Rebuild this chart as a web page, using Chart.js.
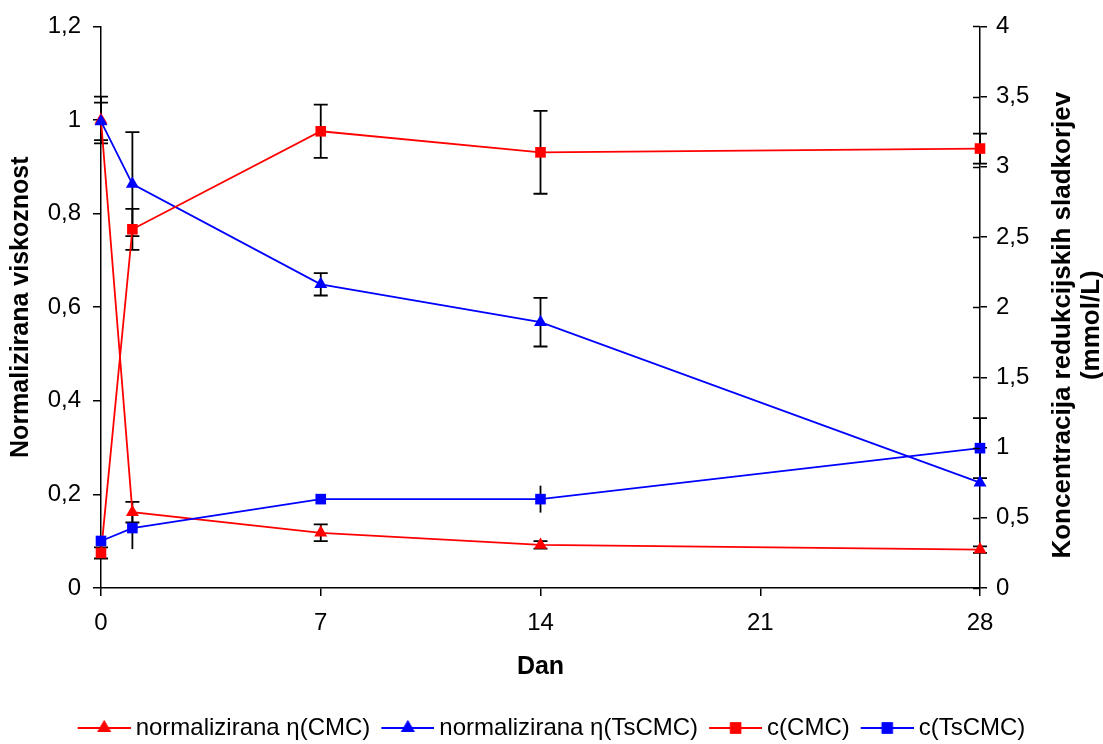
<!DOCTYPE html>
<html><head><meta charset="utf-8">
<script src="https://cdn.jsdelivr.net/npm/chart.js@4.4.1/dist/chart.umd.min.js"></script>
<style>html,body{margin:0;padding:0;background:#fff}#wrap{width:1103px;height:744px;position:relative}</style>
</head><body><div id="wrap"><canvas id="c"></canvas></div>
<script>
// ---- data ----
const days = [0, 1, 7, 14, 28];
const xTickValues = [0, 7, 14, 21, 28];
const seriesNames = ['normalizirana η(CMC)', 'normalizirana η(TsCMC)', 'c(CMC)', 'c(TsCMC)'];
const etaCMC = [1.0, 0.162, 0.118, 0.092, 0.082];
const etaCMCErr = [0.05, 0.022, 0.018, 0.008, 0.007];
const etaTsCMC = [0.997, 0.863, 0.649, 0.568, 0.225];
const etaTsCMCErr = [0.04, 0.111, 0.024, 0.052, 0];
const cCMC = [0.25, 2.555, 3.253, 3.103, 3.13];
const cCMCErr = [0.04, 0.146, 0.19, 0.295, 0.107];
const cTsCMC = [0.335, 0.427, 0.633, 0.633, 0.996];
const cTsCMCErr = [0, 0.15, 0, 0.096, 0.214];
const cTsCMCCaps = [true, false, true, false, true];
const leftTitle = 'Normalizirana viskoznost';
const rightTitle = ['Koncentracija redukcijskih sladkorjev', '(mmol/L)'];
const xTitle = 'Dan';

const FONT = '"Liberation Sans", Arial, sans-serif';
const RED = '#ff0000', BLUE = '#0000ff';
Chart.defaults.color = '#000';
Chart.defaults.font.family = FONT;

const pts = arr => days.map((d, i) => ({x: d, y: arr[i]}));
function mk(label, arr, color, style, axis, order, errs, caps) {
  return {label, data: pts(arr), borderColor: color, backgroundColor: color,
    pointBackgroundColor: color, pointBorderColor: color, pointStyle: style,
    pointRadius: 7.5, pointHoverRadius: 7.5, pointBorderWidth: 0, borderWidth: 1.8,
    tension: 0, yAxisID: axis, order, clip: false, errs, caps};
}
const datasets = [
  mk(seriesNames[0], etaCMC, RED, 'triangle', 'y', 3, etaCMCErr, null),
  mk(seriesNames[1], etaTsCMC, BLUE, 'triangle', 'y', 2, etaTsCMCErr, null),
  mk(seriesNames[2], cCMC, RED, 'rect', 'yR', 1, cCMCErr, null),
  mk(seriesNames[3], cTsCMC, BLUE, 'rect', 'yR', 0, cTsCMCErr, cTsCMCCaps)
];

function legendImage(color, style) {
  const c = document.createElement('canvas');
  c.width = 60; c.height = 22;
  const g = c.getContext('2d');
  g.strokeStyle = color; g.fillStyle = color; g.lineWidth = 1.8;
  g.beginPath(); g.moveTo(7, 11); g.lineTo(60, 11); g.stroke();
  Chart.helpers.drawPoint(g, {pointStyle: style, radius: 8, rotation: 0, borderWidth: 0}, 33.5, 11);
  g.fill();
  return c;
}

const errPlugin = {
  id: 'errbars',
  beforeDatasetsDraw(chart) {
    const ctx = chart.ctx;
    ctx.save();
    ctx.strokeStyle = '#000'; ctx.lineWidth = 1.8;
    chart.data.datasets.forEach((ds) => {
      const ys = chart.scales[ds.yAxisID], xs = chart.scales.x;
      ds.data.forEach((p, j) => {
        const e = ds.errs[j];
        if (!e) return;
        const x = xs.getPixelForValue(p.x);
        const y1 = ys.getPixelForValue(p.y + e), y2 = ys.getPixelForValue(p.y - e);
        ctx.beginPath(); ctx.moveTo(x, y1); ctx.lineTo(x, y2);
        if (!ds.caps || ds.caps[j]) {
          ctx.moveTo(x - 7, y1); ctx.lineTo(x + 7, y1);
          ctx.moveTo(x - 7, y2); ctx.lineTo(x + 7, y2);
        }
        ctx.stroke();
      });
    });
    ctx.restore();
  },
  afterDraw(chart) {
    const ctx = chart.ctx, s = chart.scales.yR;
    ctx.save();
    ctx.strokeStyle = '#000'; ctx.lineWidth = 1.5;
    s.ticks.forEach((t, i) => {
      const y = Math.round(s.getPixelForTick(i)) + 0.5;
      ctx.beginPath(); ctx.moveTo(s.left - 7, y); ctx.lineTo(s.left, y); ctx.stroke();
    });
    ctx.fillStyle = '#000';
    ctx.font = 'bold 26px ' + FONT;
    ctx.textAlign = 'center'; ctx.textBaseline = 'middle';
    ctx.translate(s.left + 83, (chart.chartArea.top + chart.chartArea.bottom) / 2 + 18);
    ctx.rotate(-Math.PI / 2);
    rightTitle.forEach((t, i) => ctx.fillText(t, 0, i * 29));
    ctx.restore();
  }
};

const fmt = v => String(Math.round(v * 10) / 10).replace('.', ',');

new Chart(document.getElementById('c'), {
  type: 'line',
  data: {datasets},
  plugins: [errPlugin],
  options: {
    responsive: true, maintainAspectRatio: false, animation: false,
    layout: {padding: {top: 25, right: 0, bottom: -6, left: 0}},
    plugins: {
      tooltip: {enabled: false},
      legend: {
        position: 'bottom',
        labels: {
          usePointStyle: true, pointStyleWidth: 46, padding: 11,
          font: {size: 24, family: FONT}, color: '#000',
          generateLabels(chart) {
            return chart.data.datasets.map((ds, i) => ({
              text: ds.label, datasetIndex: i, hidden: false, lineWidth: 0,
              fillStyle: ds.borderColor, strokeStyle: ds.borderColor,
              pointStyle: legendImage(ds.borderColor, ds.pointStyle)
            }));
          }
        }
      }
    },
    scales: {
      x: {
        type: 'linear', min: 0, max: 28,
        afterBuildTicks: s => { s.ticks = xTickValues.map(v => ({value: v})); },
        afterFit: s => { s.height = 117; },
        grid: {drawOnChartArea: false, tickLength: 8, color: '#000', lineWidth: 1.5},
        border: {color: '#000', width: 1.5},
        ticks: {padding: 13, font: {size: 24}, color: '#000', maxRotation: 0},
        title: {display: true, text: xTitle, font: {size: 25, weight: 'bold'}, color: '#000', padding: {top: 0, bottom: 23}}
      },
      y: {
        type: 'linear', position: 'left', min: 0, max: 1.2,
        afterFit: s => { s.width = 101; },
        grid: {drawOnChartArea: false, tickLength: 8, color: '#000', lineWidth: 1.5},
        border: {color: '#000', width: 1.5},
        ticks: {stepSize: 0.2, padding: 12, font: {size: 24}, color: '#000', callback: fmt},
        title: {display: true, text: leftTitle, font: {size: 25, weight: 'bold'}, color: '#000', padding: {top: 6, bottom: 0}}
      },
      yR: {
        type: 'linear', position: 'right', min: 0, max: 4,
        afterFit: s => { s.width = 123; },
        grid: {drawOnChartArea: false, tickLength: 7, color: '#000', lineWidth: 1.5},
        border: {color: '#000', width: 1.5},
        ticks: {stepSize: 0.5, padding: 9, font: {size: 24}, color: '#000', callback: fmt}
      }
    }
  }
});
</script>
</body></html>
